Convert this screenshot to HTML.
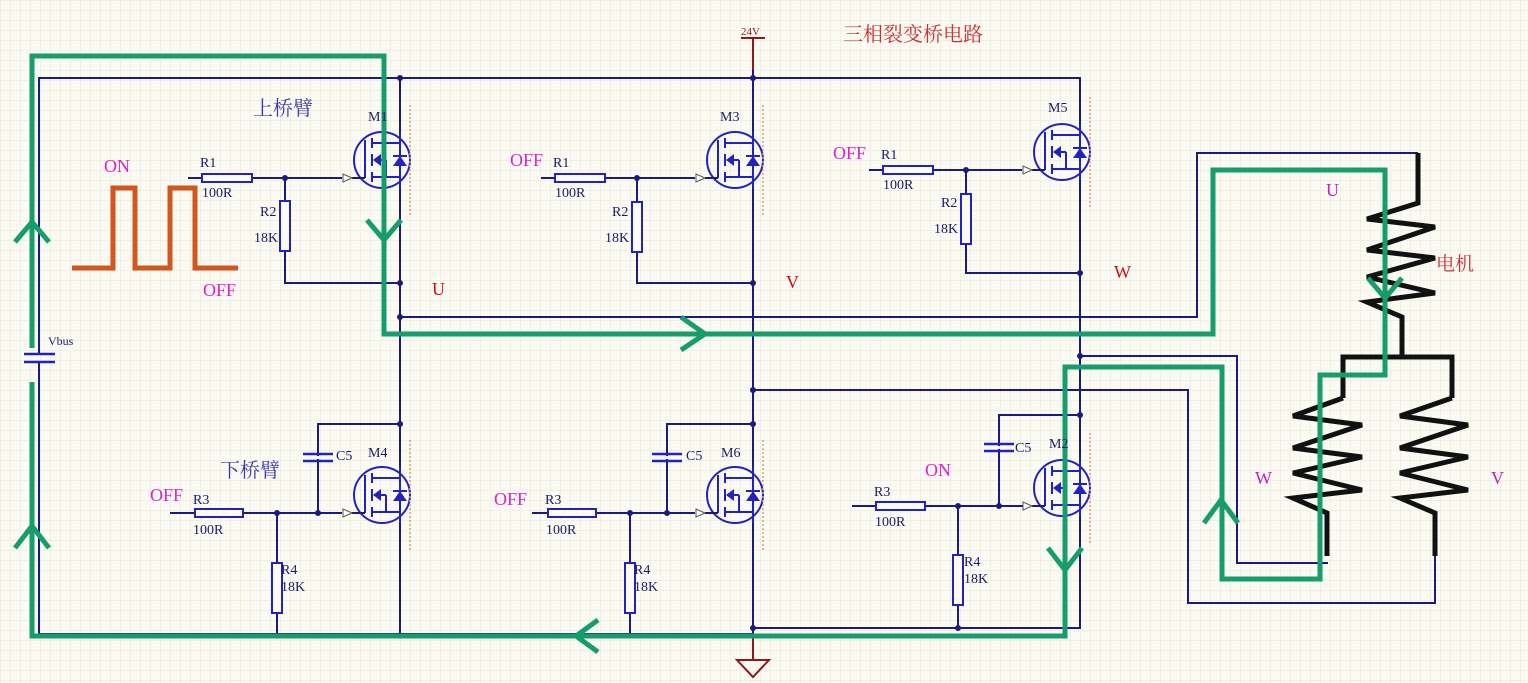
<!DOCTYPE html>
<html><head><meta charset="utf-8"><style>
html,body{margin:0;padding:0}
body{width:1528px;height:683px;overflow:hidden;background-color:#fbfaf3;
background-image:linear-gradient(#f0efe5 1px,transparent 1px),linear-gradient(90deg,#f0efe5 1px,transparent 1px);background-size:10px 10px}
svg{position:absolute;left:0;top:0}
text{font-family:"Liberation Serif","Noto Serif CJK SC",serif}
.cn{font-family:"Liberation Serif","Noto Serif CJK SC",serif}
</style></head><body>
<svg width="1528" height="683" viewBox="0 0 1528 683">
<defs>
<g id="mos">
 <circle cx="0" cy="0" r="28" fill="none" stroke="#2222c0" stroke-width="2"/>
 <line x1="-17" y1="-20" x2="-17" y2="18" stroke="#2222c0" stroke-width="2"/>
 <line x1="-10" y1="-22" x2="-10" y2="-12" stroke="#2222c0" stroke-width="2"/>
 <line x1="-10" y1="-6" x2="-10" y2="6" stroke="#2222c0" stroke-width="2"/>
 <line x1="-10" y1="12" x2="-10" y2="22" stroke="#2222c0" stroke-width="2"/>
 <line x1="-10" y1="-17" x2="18" y2="-17" stroke="#2222c0" stroke-width="2"/>
 <line x1="-10" y1="17" x2="18" y2="17" stroke="#2222c0" stroke-width="2"/>
 <line x1="-8" y1="0" x2="4" y2="0" stroke="#2222c0" stroke-width="2"/>
 <line x1="4" y1="0" x2="4" y2="17" stroke="#2222c0" stroke-width="2"/>
 <polygon points="-9,0 -1,-6 -1,6" fill="#2222c0"/>
 <polygon points="18,-4 11,6 25,6" fill="#2222c0"/>
 <line x1="11" y1="-4" x2="25" y2="-4" stroke="#2222c0" stroke-width="2"/>
 <line x1="18" y1="-28" x2="18" y2="28" stroke="#2222c0" stroke-width="2"/>
 <line x1="-30" y1="18" x2="-17" y2="18" stroke="#1a1a7a" stroke-width="2"/>
 <polygon points="-39,14 -39,22 -30,18" fill="#fff" stroke="#555" stroke-width="1"/>
 <line x1="28" y1="-55" x2="28" y2="55" stroke="#e0a070" stroke-width="1.5" stroke-dasharray="2,2"/>
</g>
</defs>
<g fill="none" stroke="#1a1a80" stroke-width="2">
 <polyline points="39,354 39,78 1080,78 1080,628 753,628"/>
 <polyline points="39,362 39,634 753,634"/>
 <line x1="400" y1="78" x2="400" y2="634"/>
 <line x1="753" y1="40" x2="753" y2="660"/>
 <line x1="188" y1="178" x2="342" y2="178"/>
 <polyline points="285,178 285,283 400,283"/>
 <line x1="541" y1="178" x2="695" y2="178"/>
 <polyline points="637,178 637,283 753,283"/>
 <line x1="869" y1="170" x2="1022" y2="170"/>
 <polyline points="966,170 966,273 1080,273"/>
 <line x1="170" y1="513" x2="342" y2="513"/>
 <polyline points="318,513 318,424 400,424"/>
 <line x1="277" y1="513" x2="277" y2="634"/>
 <line x1="532" y1="513" x2="695" y2="513"/>
 <polyline points="667,513 667,424 753,424"/>
 <line x1="630" y1="513" x2="630" y2="634"/>
 <line x1="852" y1="506" x2="1024" y2="506"/>
 <polyline points="999,506 999,415 1080,415"/>
 <line x1="958" y1="506" x2="958" y2="628"/>
 <polyline points="400,317 1197,317 1197,153 1418,153"/>
 <polyline points="1080,356 1237,356 1237,563 1328,563"/>
 <polyline points="753,390 1188,390 1188,603 1435,603 1435,556"/>
</g>
<g fill="#1a1a80">
 <circle cx="400" cy="78" r="3"/><circle cx="753" cy="78" r="3"/>
 <circle cx="285" cy="178" r="3"/><circle cx="637" cy="178" r="3"/><circle cx="966" cy="170" r="3"/>
 <circle cx="400" cy="283" r="3"/><circle cx="753" cy="283" r="3"/><circle cx="1080" cy="273" r="3"/>
 <circle cx="400" cy="317" r="3"/><circle cx="1080" cy="356" r="3"/><circle cx="753" cy="390" r="3"/>
 <circle cx="400" cy="424" r="3"/><circle cx="753" cy="424" r="3"/><circle cx="1080" cy="415" r="3"/>
 <circle cx="277" cy="513" r="3"/><circle cx="318" cy="513" r="3"/><circle cx="630" cy="513" r="3"/><circle cx="667" cy="513" r="3"/>
 <circle cx="958" cy="506" r="3"/><circle cx="999" cy="506" r="3"/>
 <circle cx="753" cy="628" r="3"/><circle cx="958" cy="628" r="3"/>
</g>
<g fill="#fbfaf3" stroke="#2222c0" stroke-width="2">
 <rect x="202" y="174" width="50" height="8"/><rect x="555" y="174" width="50" height="8"/><rect x="883" y="166" width="50" height="8"/>
 <rect x="280" y="201" width="10" height="50"/><rect x="632" y="202" width="10" height="50"/><rect x="961" y="194" width="10" height="50"/>
 <rect x="195" y="509" width="48" height="8"/><rect x="548" y="509" width="48" height="8"/><rect x="876" y="502" width="49" height="8"/>
 <rect x="272" y="563" width="10" height="50"/><rect x="625" y="563" width="10" height="50"/><rect x="953" y="555" width="10" height="50"/>
</g>
<g stroke="#2222c0" stroke-width="2.5">
 <line x1="24" y1="354" x2="55" y2="354"/><line x1="24" y1="362" x2="55" y2="362"/>
 <line x1="303" y1="454" x2="333" y2="454"/><line x1="303" y1="461" x2="333" y2="461"/>
 <line x1="652" y1="454" x2="682" y2="454"/><line x1="652" y1="461" x2="682" y2="461"/>
 <line x1="984" y1="444" x2="1014" y2="444"/><line x1="984" y1="451" x2="1014" y2="451"/>
</g>
<g stroke="#fbfaf3" stroke-width="3"><line x1="318" y1="456" x2="318" y2="459"/><line x1="667" y1="456" x2="667" y2="459"/><line x1="999" y1="446" x2="999" y2="449"/></g>
<use href="#mos" x="382" y="160"/>
<use href="#mos" x="735" y="160"/>
<use href="#mos" x="1062" y="152"/>
<use href="#mos" x="382" y="495"/>
<use href="#mos" x="735" y="495"/>
<use href="#mos" x="1062" y="488"/>
<g stroke="#8b1a1a" stroke-width="2" fill="none">
 <line x1="753" y1="38" x2="753" y2="70"/><line x1="741" y1="38" x2="765" y2="38"/>
 <line x1="753" y1="636" x2="753" y2="660"/>
 <polygon points="737,660 769,660 753,677"/>
</g>
<polyline points="72,268 113,268 113,188 135,188 135,268 170,268 170,188 195,188 195,268 238,268" fill="none" stroke="#d2561e" stroke-width="5"/>
<g fill="none" stroke="#111" stroke-width="5" stroke-linejoin="miter">
 <polyline points="1418,153 1418,203 1367,219 1435,227 1367,250 1435,258 1367,277 1435,293 1367,302 1402,317 1402,357"/>
 <polyline points="1343,398 1343,357 1452,357 1452,398"/>
 <polyline points="1343,398 1293,416 1362,425 1293,448 1362,457 1293,473 1362,490 1293,498 1327,513 1327,556"/>
 <polyline points="1452,398 1400,416 1468,425 1400,448 1468,457 1400,473 1468,490 1400,498 1435,513 1435,556"/>
</g>
<g fill="none" stroke="#179c6c" stroke-width="5" stroke-linejoin="miter">
 <polyline points="32,348 32,56 384,56 384,334 1213,334 1213,170 1385,170 1385,375 1320,375 1320,579 1222,579 1222,367 1065,367 1065,636 32,636 32,382"/>
 <polyline points="15,242 32,222 49,242"/>
 <polyline points="15,548 32,526 49,548"/>
 <polyline points="367,220 384,240 401,220"/>
 <polyline points="681,317 705,334 681,350"/>
 <polyline points="1368,278 1385,298 1402,278"/>
 <polyline points="1204,523 1221,500 1238,523"/>
 <polyline points="1048,548 1065,570 1082,548"/>
 <polyline points="598,620 576,636 598,652"/>
</g>
<g fill="#1a1a6a" font-size="14">
 <text x="200" y="167">R1</text><text x="202" y="197">100R</text>
 <text x="260" y="216">R2</text><text x="254" y="242">18K</text>
 <text x="368" y="121">M1</text>
 <text x="553" y="167">R1</text><text x="555" y="197">100R</text>
 <text x="612" y="216">R2</text><text x="605" y="242">18K</text>
 <text x="720" y="121">M3</text>
 <text x="881" y="159">R1</text><text x="883" y="189">100R</text>
 <text x="941" y="207">R2</text><text x="934" y="233">18K</text>
 <text x="1048" y="112">M5</text>
 <text x="193" y="504">R3</text><text x="193" y="534">100R</text>
 <text x="281" y="574">R4</text><text x="281" y="591">18K</text>
 <text x="336" y="460">C5</text><text x="368" y="457">M4</text>
 <text x="545" y="504">R3</text><text x="546" y="534">100R</text>
 <text x="634" y="574">R4</text><text x="634" y="591">18K</text>
 <text x="686" y="460">C5</text><text x="721" y="457">M6</text>
 <text x="874" y="496">R3</text><text x="875" y="526">100R</text>
 <text x="964" y="566">R4</text><text x="964" y="583">18K</text>
 <text x="1015" y="452">C5</text><text x="1049" y="448">M2</text>
 <text x="48" y="345" font-size="12">Vbus</text>
</g>
<text x="741" y="35" font-size="11" fill="#8b1a1a">24V</text>
<g fill="#e020d0" font-size="18">
 <text x="104" y="172">ON</text><text x="203" y="296">OFF</text>
 <text x="510" y="166">OFF</text><text x="833" y="159">OFF</text>
 <text x="150" y="501">OFF</text><text x="494" y="505">OFF</text>
 <text x="925" y="476">ON</text>
</g>
<g fill="#cc1010" font-size="18">
 <text x="432" y="295">U</text><text x="786" y="288">V</text><text x="1114" y="278">W</text>
</g>
<g fill="#c020c0" font-size="18">
 <text x="1326" y="196">U</text><text x="1255" y="484">W</text><text x="1491" y="484">V</text>
</g>
<text x="843" y="41" class="cn" font-size="20" fill="#cc3030">三相裂变桥电路</text>
<text x="1436" y="270" class="cn" font-size="19" fill="#cc3030">电机</text>
<text x="253" y="115" class="cn" font-size="20" fill="#3a3ab0">上桥臂</text>
<text x="220" y="477" class="cn" font-size="20" fill="#3a3ab0">下桥臂</text>
</svg>
</body></html>
